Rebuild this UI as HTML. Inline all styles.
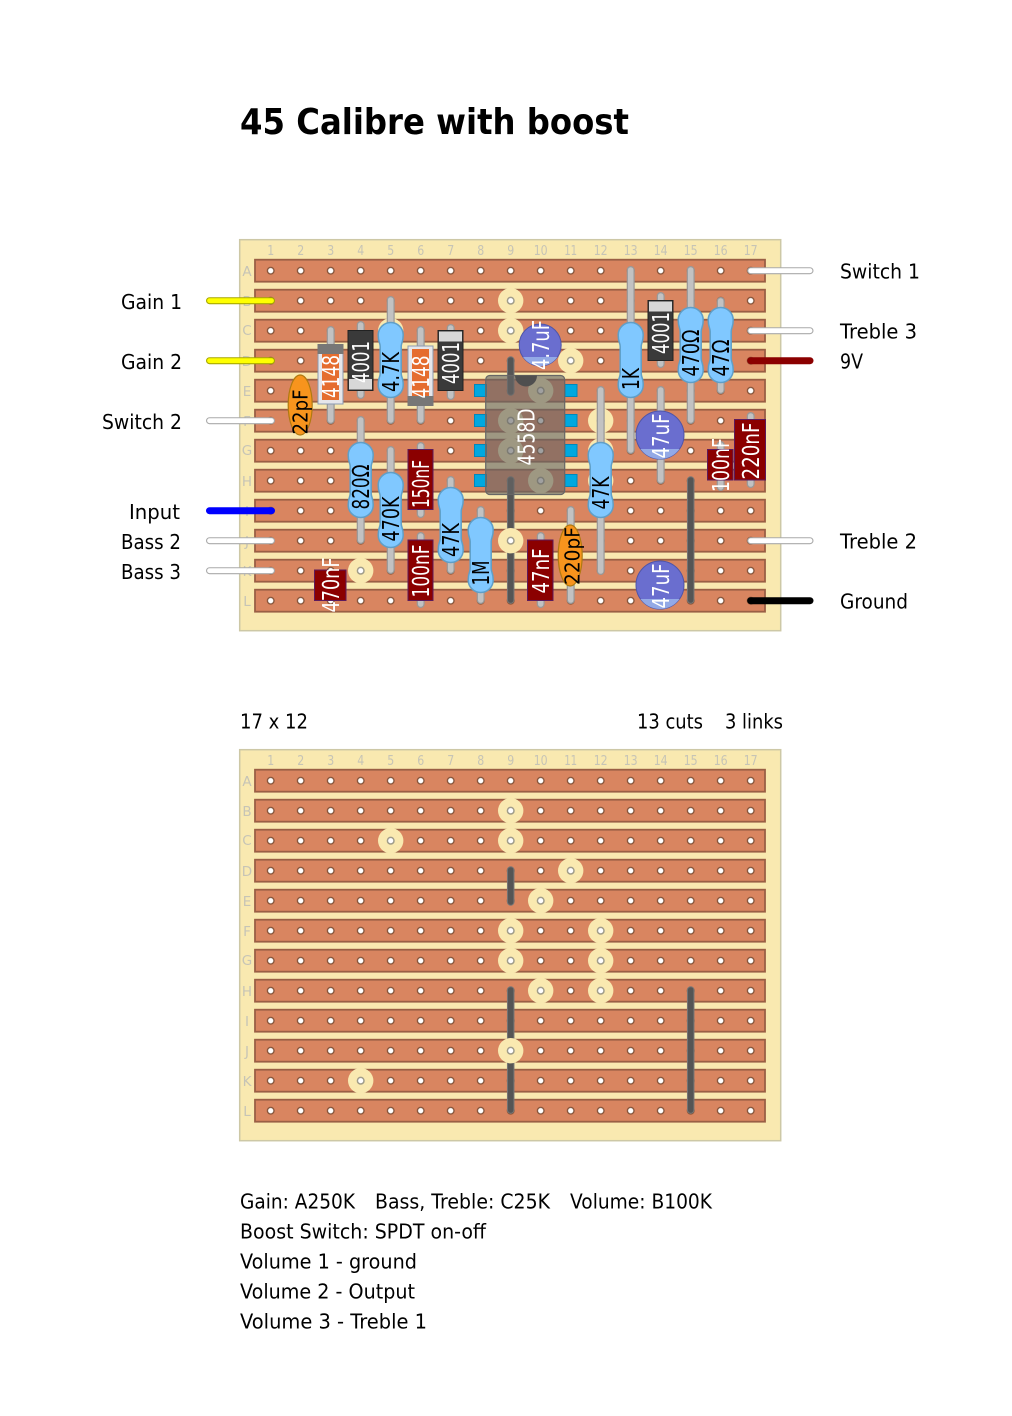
<!DOCTYPE html>
<html><head><meta charset="utf-8"><title>45 Calibre with boost</title>
<style>
html,body{margin:0;padding:0;background:#fff}
svg{display:block}
text{font-family:"DejaVu Sans","Liberation Sans",sans-serif}
.l{font-size:20px;fill:#000}
.g{font-size:13.5px;fill:#c6c4b6;text-anchor:middle}
.w{font-size:23px;fill:#fff;text-anchor:middle}
.k{font-size:23px;fill:#000;text-anchor:middle}
.c{font-size:20px;fill:#000;text-anchor:middle}
.board{fill:#f9e9b0;stroke:#cdc8a6;stroke-width:1.5}
.strip{fill:#d98560;stroke:#9a5f45;stroke-width:1.8}
.cut{fill:#f9e9b0}
.ch{fill:#fff;stroke:#a09d8a;stroke-width:1.5}
.wo{stroke:#999;stroke-width:8;stroke-linecap:round;fill:none}
.wi{stroke:#c2c2c2;stroke-width:5.5;stroke-linecap:round;fill:none}
.lo{stroke:#777;stroke-width:7.5;stroke-linecap:round;fill:none}
.li{stroke:#555;stroke-width:5.5;stroke-linecap:round;fill:none}
.cap{fill:#8b0000;stroke:#5d1a5d;stroke-width:1}
.res{fill:#80c8ff;stroke:#5f9fc8;stroke-width:1.5}
.cer{fill:#f7941d;stroke:#b07a10;stroke-width:1.2}
.ele{fill:#6a6ecf;stroke:#4f55a8;stroke-width:1}
.seg{fill:#93a9e6}
.d1{fill:#3a3a3a;stroke:#222;stroke-width:1}
.d2{fill:#d8d8d8}
.pin{fill:#00a8e0;stroke:#0088bb;stroke-width:1}
</style></head><body>
<svg xmlns="http://www.w3.org/2000/svg" width="1012" height="1416" viewBox="0 0 1012 1416">
<defs>
<pattern id="holes" patternUnits="userSpaceOnUse" x="255.7" y="255.7" width="30" height="30"><circle cx="15" cy="15" r="3.3" fill="#fff" stroke="#7a4a30" stroke-width="1.2"/></pattern>
<path id="res" class="res" d="M-12.5 12.5A12.5 12.5 0 0 1 12.5 12.5C12.5 20 10.5 20 10.5 24L10.5 51C10.5 55 12.5 55 12.5 62.5A12.5 12.5 0 0 1-12.5 62.5C-12.5 55-10.5 55-10.5 51L-10.5 24C-10.5 20-12.5 20-12.5 12.5Z"/>
<g id="strips">
<rect class="strip" x="255" y="259.7" width="510" height="22"/>
<rect class="strip" x="255" y="289.7" width="510" height="22"/>
<rect class="strip" x="255" y="319.7" width="510" height="22"/>
<rect class="strip" x="255" y="349.7" width="510" height="22"/>
<rect class="strip" x="255" y="379.7" width="510" height="22"/>
<rect class="strip" x="255" y="409.7" width="510" height="22"/>
<rect class="strip" x="255" y="439.7" width="510" height="22"/>
<rect class="strip" x="255" y="469.7" width="510" height="22"/>
<rect class="strip" x="255" y="499.7" width="510" height="22"/>
<rect class="strip" x="255" y="529.7" width="510" height="22"/>
<rect class="strip" x="255" y="559.7" width="510" height="22"/>
<rect class="strip" x="255" y="589.7" width="510" height="22"/>
</g>
<g id="cuts">
<circle class="cut" cx="510.7" cy="300.7" r="12.7"/><circle class="ch" cx="510.7" cy="300.7" r="3.3"/>
<circle class="cut" cx="390.7" cy="330.7" r="12.7"/><circle class="ch" cx="390.7" cy="330.7" r="3.3"/>
<circle class="cut" cx="510.7" cy="330.7" r="12.7"/><circle class="ch" cx="510.7" cy="330.7" r="3.3"/>
<circle class="cut" cx="570.7" cy="360.7" r="12.7"/><circle class="ch" cx="570.7" cy="360.7" r="3.3"/>
<circle class="cut" cx="540.7" cy="390.7" r="12.7"/><circle class="ch" cx="540.7" cy="390.7" r="3.3"/>
<circle class="cut" cx="510.7" cy="420.7" r="12.7"/><circle class="ch" cx="510.7" cy="420.7" r="3.3"/>
<circle class="cut" cx="600.7" cy="420.7" r="12.7"/><circle class="ch" cx="600.7" cy="420.7" r="3.3"/>
<circle class="cut" cx="510.7" cy="450.7" r="12.7"/><circle class="ch" cx="510.7" cy="450.7" r="3.3"/>
<circle class="cut" cx="600.7" cy="450.7" r="12.7"/><circle class="ch" cx="600.7" cy="450.7" r="3.3"/>
<circle class="cut" cx="540.7" cy="480.7" r="12.7"/><circle class="ch" cx="540.7" cy="480.7" r="3.3"/>
<circle class="cut" cx="600.7" cy="480.7" r="12.7"/><circle class="ch" cx="600.7" cy="480.7" r="3.3"/>
<circle class="cut" cx="510.7" cy="540.7" r="12.7"/><circle class="ch" cx="510.7" cy="540.7" r="3.3"/>
<circle class="cut" cx="360.7" cy="570.7" r="12.7"/><circle class="ch" cx="360.7" cy="570.7" r="3.3"/>
</g>
<g id="labels">
<text class="g" x="270.7" y="255" textLength="7" lengthAdjust="spacingAndGlyphs">1</text><text class="g" x="300.7" y="255" textLength="7" lengthAdjust="spacingAndGlyphs">2</text><text class="g" x="330.7" y="255" textLength="7" lengthAdjust="spacingAndGlyphs">3</text><text class="g" x="360.7" y="255" textLength="7" lengthAdjust="spacingAndGlyphs">4</text><text class="g" x="390.7" y="255" textLength="7" lengthAdjust="spacingAndGlyphs">5</text><text class="g" x="420.7" y="255" textLength="7" lengthAdjust="spacingAndGlyphs">6</text><text class="g" x="450.7" y="255" textLength="7" lengthAdjust="spacingAndGlyphs">7</text><text class="g" x="480.7" y="255" textLength="7" lengthAdjust="spacingAndGlyphs">8</text><text class="g" x="510.7" y="255" textLength="7" lengthAdjust="spacingAndGlyphs">9</text>
<text class="g" x="540.7" y="255" textLength="14" lengthAdjust="spacingAndGlyphs">10</text><text class="g" x="570.7" y="255" textLength="13" lengthAdjust="spacingAndGlyphs">11</text><text class="g" x="600.7" y="255" textLength="14" lengthAdjust="spacingAndGlyphs">12</text><text class="g" x="630.7" y="255" textLength="14" lengthAdjust="spacingAndGlyphs">13</text><text class="g" x="660.7" y="255" textLength="14" lengthAdjust="spacingAndGlyphs">14</text><text class="g" x="690.7" y="255" textLength="14" lengthAdjust="spacingAndGlyphs">15</text><text class="g" x="720.7" y="255" textLength="14" lengthAdjust="spacingAndGlyphs">16</text><text class="g" x="750.7" y="255" textLength="14" lengthAdjust="spacingAndGlyphs">17</text>
<text class="g" x="247" y="276">A</text><text class="g" x="247" y="306">B</text><text class="g" x="247" y="335">C</text><text class="g" x="247" y="366">D</text><text class="g" x="247" y="396">E</text><text class="g" x="247" y="426">F</text><text class="g" x="247" y="455">G</text><text class="g" x="247" y="486">H</text><text class="g" x="247" y="516">I</text><text class="g" x="247" y="546">J</text><text class="g" x="247" y="576">K</text><text class="g" x="247" y="606">L</text>
</g>
</defs>

<text x="240" y="134" font-size="36" font-weight="700" fill="#000" textLength="389" lengthAdjust="spacingAndGlyphs" style="font-family:'DejaVu Sans',sans-serif">45 Calibre with boost</text>

<!-- TOP BOARD -->
<rect class="board" x="239.7" y="239.7" width="541" height="391"/>
<use href="#labels"/>
<use href="#strips"/>
<rect x="255.7" y="255.7" width="510" height="360" fill="url(#holes)"/>

<!-- links -->
<path class="lo" d="M510.7 360V392M510.7 480V600M690.7 480V600"/>
<path class="li" d="M510.7 360V392M510.7 480V600M690.7 480V600"/>
<use href="#cuts"/>

<!-- IC -->
<rect class="pin" x="474.5" y="384.5" width="12" height="12"/><rect class="pin" x="474.5" y="414.5" width="12" height="12"/><rect class="pin" x="474.5" y="444.5" width="12" height="12"/><rect class="pin" x="474.5" y="474.5" width="12" height="12"/>
<rect class="pin" x="565" y="384.5" width="12" height="12"/><rect class="pin" x="565" y="414.5" width="12" height="12"/><rect class="pin" x="565" y="444.5" width="12" height="12"/><rect class="pin" x="565" y="474.5" width="12" height="12"/>
<rect x="485.7" y="375.5" width="79" height="119" rx="4" fill="#666" fill-opacity=".62" stroke="#666" stroke-width="1.2"/>
<path d="M515 375.5A11 11 0 0 0 537 375.5Z" fill="#4f4f4f"/>
<text class="w" transform="translate(534.5,437) rotate(-90)" textLength="57" lengthAdjust="spacingAndGlyphs">4558D</text>

<!-- component wires -->
<path class="wo" d="M330.7 330V420M360.7 325V395M390.7 300V420M420.7 330V420M450.7 328V396M630.7 270V450M660.7 296V364M690.7 270V420M720.7 301V390M660.7 390V480M600.7 390V571M750.7 416V484M720.7 445V487M360.7 420V540M390.7 450V570M420.7 446V514M450.7 480V570M420.7 536V604M480.7 510V600M540.7 536V604M570.7 510V600"/>
<path class="wi" d="M330.7 330V420M360.7 325V395M390.7 300V420M420.7 330V420M450.7 328V396M630.7 270V450M660.7 296V364M690.7 270V420M720.7 301V390M660.7 390V480M600.7 390V571M750.7 416V484M720.7 445V487M360.7 420V540M390.7 450V570M420.7 446V514M450.7 480V570M420.7 536V604M480.7 510V600M540.7 536V604M570.7 510V600"/>

<!-- diodes -->
<rect x="318" y="345" width="25" height="59" fill="#e6e6ea" stroke="#8a9bb0" stroke-width="1"/><rect x="322" y="353" width="17" height="47" fill="#e56d2f"/><rect x="317.5" y="344" width="26" height="10" fill="#777"/>
<text class="w" transform="translate(339,376.5) rotate(-90)" textLength="43" lengthAdjust="spacingAndGlyphs">4148</text>
<rect class="d1" x="348" y="330.5" width="25" height="60"/><rect class="d2" x="349" y="379" width="23" height="10.5"/>
<text class="w" transform="translate(369,362) rotate(-90)" textLength="42" lengthAdjust="spacingAndGlyphs">4001</text>
<rect x="408" y="346" width="25" height="59" fill="#e6e6ea" stroke="#8a9bb0" stroke-width="1"/><rect x="412" y="349" width="17" height="48" fill="#e56d2f"/><rect x="407.5" y="396" width="26" height="10" fill="#777"/>
<text class="w" transform="translate(429,377) rotate(-90)" textLength="43" lengthAdjust="spacingAndGlyphs">4148</text>
<rect class="d1" x="438" y="330.5" width="25" height="60"/><rect class="d2" x="439" y="331.5" width="23" height="10"/>
<text class="w" transform="translate(459,363) rotate(-90)" textLength="42" lengthAdjust="spacingAndGlyphs">4001</text>
<rect class="d1" x="648" y="300.5" width="25" height="60"/><rect class="d2" x="649" y="301.5" width="23" height="10"/>
<text class="w" transform="translate(669,333) rotate(-90)" textLength="42" lengthAdjust="spacingAndGlyphs">4001</text>

<!-- resistors -->
<use href="#res" x="390.7" y="322.5"/><text class="k" transform="translate(399,372) rotate(-90)" textLength="40" lengthAdjust="spacingAndGlyphs">4.7K</text>
<use href="#res" x="630.7" y="322.5"/><text class="k" transform="translate(639,379) rotate(-90)" textLength="22" lengthAdjust="spacingAndGlyphs">1K</text>
<use href="#res" x="690.7" y="307.5"/><text class="k" transform="translate(699,353) rotate(-90)" textLength="47" lengthAdjust="spacingAndGlyphs">470Ω</text>
<use href="#res" x="720.7" y="307.5"/><text class="k" transform="translate(729,358) rotate(-90)" textLength="37" lengthAdjust="spacingAndGlyphs">47Ω</text>
<use href="#res" x="360.7" y="442.5"/><text class="k" transform="translate(369,487) rotate(-90)" textLength="45" lengthAdjust="spacingAndGlyphs">820Ω</text>
<use href="#res" x="390.7" y="472.5"/><text class="k" transform="translate(399,519) rotate(-90)" textLength="45" lengthAdjust="spacingAndGlyphs">470K</text>
<use href="#res" x="450.7" y="487.5"/><text class="k" transform="translate(459,540) rotate(-90)" textLength="34" lengthAdjust="spacingAndGlyphs">47K</text>
<use href="#res" x="480.7" y="517.5"/><text class="k" transform="translate(489,573) rotate(-90)" textLength="25" lengthAdjust="spacingAndGlyphs">1M</text>
<use href="#res" x="600.7" y="442.5"/><text class="k" transform="translate(609,493) rotate(-90)" textLength="33" lengthAdjust="spacingAndGlyphs">47K</text>

<!-- film caps -->
<rect class="cap" x="408" y="449.5" width="25" height="60"/><text class="w" transform="translate(429,484) rotate(-90)" textLength="48" lengthAdjust="spacingAndGlyphs">150nF</text>
<rect class="cap" x="408" y="540" width="25" height="60.5"/><text class="w" transform="translate(429,571) rotate(-90)" textLength="53" lengthAdjust="spacingAndGlyphs">100nF</text>
<rect class="cap" x="314.5" y="570" width="31.5" height="30.5"/><text class="w" transform="translate(339,585) rotate(-90)" textLength="55" lengthAdjust="spacingAndGlyphs">470nF</text>
<rect class="cap" x="527.5" y="540" width="25.5" height="60.5"/><text class="w" transform="translate(549,571) rotate(-90)" textLength="45" lengthAdjust="spacingAndGlyphs">47nF</text>
<rect class="cap" x="707.5" y="449.5" width="25.5" height="30.5"/><text class="w" transform="translate(729,465) rotate(-90)" textLength="54" lengthAdjust="spacingAndGlyphs">100nF</text>
<rect class="cap" x="734.5" y="419.5" width="31" height="60.5"/><text class="w" transform="translate(759,451) rotate(-90)" textLength="57" lengthAdjust="spacingAndGlyphs">220nF</text>

<!-- ceramic caps -->
<ellipse class="cer" cx="300.2" cy="405" rx="12" ry="30"/><text class="c" transform="translate(307.6,412) rotate(-90)" textLength="45" lengthAdjust="spacingAndGlyphs">22pF</text>
<ellipse class="cer" cx="570.2" cy="555.5" rx="12" ry="30.5"/><text class="c" transform="translate(579.6,556) rotate(-90)" textLength="58" lengthAdjust="spacingAndGlyphs">220pF</text>

<!-- electrolytics -->
<circle class="ele" cx="540.2" cy="345" r="21"/><path class="seg" d="M523 357H557.4A21 21 0 0 1 523 357Z"/>
<text class="w" transform="translate(549,345) rotate(-90)" textLength="50" lengthAdjust="spacingAndGlyphs">4.7uF</text>
<circle class="ele" cx="660" cy="435" r="24"/><path class="seg" d="M640.5 449H679.5A24 24 0 0 1 640.5 449Z"/>
<text class="w" transform="translate(669,436) rotate(-90)" textLength="45" lengthAdjust="spacingAndGlyphs">47uF</text>
<circle class="ele" cx="660" cy="585" r="24"/><path class="seg" d="M640.5 599H679.5A24 24 0 0 1 640.5 599Z"/>
<text class="w" transform="translate(669,586) rotate(-90)" textLength="45" lengthAdjust="spacingAndGlyphs">47uF</text>

<!-- off-board wires -->
<path d="M209.5 300.7H271.5M209.5 360.7H271.5" stroke="#a8a800" stroke-width="7" stroke-linecap="round"/>
<path d="M209.5 300.7H271.5M209.5 360.7H271.5" stroke="#ffff00" stroke-width="4.8" stroke-linecap="round"/>
<path d="M209.5 420.7H271.5M209.5 540.7H271.5M209.5 570.7H271.5M750.7 270.7H810M750.7 330.7H810M750.7 540.7H810" stroke="#aaa" stroke-width="7" stroke-linecap="round"/>
<path d="M209.5 420.7H271.5M209.5 540.7H271.5M209.5 570.7H271.5M750.7 270.7H810M750.7 330.7H810M750.7 540.7H810" stroke="#fff" stroke-width="4.8" stroke-linecap="round"/>
<path d="M209.5 510.7H271.5" stroke="#0000ff" stroke-width="7" stroke-linecap="round"/>
<path d="M750.7 360.7H810" stroke="#8b0000" stroke-width="7" stroke-linecap="round"/>
<path d="M750.7 600.7H810" stroke="#000" stroke-width="7" stroke-linecap="round"/>

<!-- wire labels -->
<text class="l" x="121" y="309" textLength="61" lengthAdjust="spacingAndGlyphs">Gain 1</text>
<text class="l" x="121" y="369" textLength="61" lengthAdjust="spacingAndGlyphs">Gain 2</text>
<text class="l" x="102" y="429" textLength="80" lengthAdjust="spacingAndGlyphs">Switch 2</text>
<text class="l" x="129" y="519" textLength="51" lengthAdjust="spacingAndGlyphs">Input</text>
<text class="l" x="121" y="549" textLength="60" lengthAdjust="spacingAndGlyphs">Bass 2</text>
<text class="l" x="121" y="579" textLength="60" lengthAdjust="spacingAndGlyphs">Bass 3</text>
<text class="l" x="840" y="278.4" textLength="80" lengthAdjust="spacingAndGlyphs">Switch 1</text>
<text class="l" x="840" y="338.4" textLength="77" lengthAdjust="spacingAndGlyphs">Treble 3</text>
<text class="l" x="840" y="368.4" textLength="23" lengthAdjust="spacingAndGlyphs">9V</text>
<text class="l" x="840" y="548.4" textLength="77" lengthAdjust="spacingAndGlyphs">Treble 2</text>
<text class="l" x="840" y="608.4" textLength="68" lengthAdjust="spacingAndGlyphs">Ground</text>

<text class="l" x="240" y="728.4" textLength="68" lengthAdjust="spacingAndGlyphs">17 x 12</text>
<text class="l" x="637" y="728.4" textLength="66" lengthAdjust="spacingAndGlyphs">13 cuts</text>
<text class="l" x="725" y="728.4" textLength="58" lengthAdjust="spacingAndGlyphs">3 links</text>

<!-- BOTTOM BOARD -->
<g transform="translate(0,510)">
<rect class="board" x="239.7" y="239.7" width="541" height="391"/>
<use href="#labels"/>
<use href="#strips"/>
<rect x="255.7" y="255.7" width="510" height="360" fill="url(#holes)"/>
<path class="lo" d="M510.7 360V392M510.7 480V600M690.7 480V600"/>
<path class="li" d="M510.7 360V392M510.7 480V600M690.7 480V600"/>
<use href="#cuts"/>
</g>

<text class="l" x="240" y="1208.4" textLength="115" lengthAdjust="spacingAndGlyphs">Gain: A250K</text>
<text class="l" x="375" y="1208.4" textLength="175" lengthAdjust="spacingAndGlyphs">Bass, Treble: C25K</text>
<text class="l" x="570" y="1208.4" textLength="142" lengthAdjust="spacingAndGlyphs">Volume: B100K</text>
<text class="l" x="240" y="1238.4" textLength="246" lengthAdjust="spacingAndGlyphs">Boost Switch: SPDT on-off</text>
<text class="l" x="240" y="1268.4" textLength="177" lengthAdjust="spacingAndGlyphs">Volume 1 - ground</text>
<text class="l" x="240" y="1298.4" textLength="175" lengthAdjust="spacingAndGlyphs">Volume 2 - Output</text>
<text class="l" x="240" y="1328.4" textLength="187" lengthAdjust="spacingAndGlyphs">Volume 3 - Treble 1</text>
</svg>
</body></html>
